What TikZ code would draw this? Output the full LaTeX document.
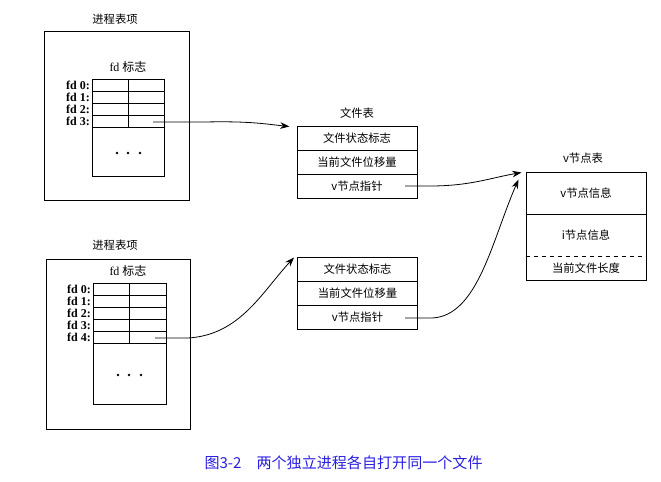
\documentclass[tikz,border=0pt]{standalone}
\usepackage{fontspec}
\setmainfont{Liberation Serif}
\newfontfamily\cjk{Noto Sans CJK SC}
\usetikzlibrary{arrows.meta,calc}
\definecolor{capblue}{RGB}{40,30,225}
\tikzset{
	ftrow/.style={draw,minimum width=90pt,minimum height=18pt,inner sep=0pt,font=\cjk\fontsize{8.5}{9}\selectfont},
	vtxt/.style={inner sep=1pt,font=\cjk\fontsize{8.5}{9}\selectfont},
	ttl/.style={inner sep=1pt,font=\cjk\fontsize{8.5}{9}\selectfont},
	fdlbl/.style={anchor=east,inner sep=0.5pt,font=\bfseries\fontsize{9}{9}\selectfont},
	link/.style={-{Stealth[length=7pt,width=5pt]},line width=0.6pt}
}
\begin{document}
\begin{tikzpicture}[x=0.75pt,y=-0.75pt,line width=0.75pt]
	\useasboundingbox (0,0) rectangle (661,482);

	%process 1
	\node[ttl] (p1title) at (115,19) {进程表项};
	\draw (44,31) rectangle (189,200); %frame
	\node[inner sep=1pt,font=\fontsize{9}{9}\selectfont] (p1fd) at (128,67) {fd {\cjk 标志}};
	\draw (92,79) rectangle (164,176); %fd table
	\foreach \y in {91,103,115,127} \draw (92,\y) -- (164,\y);
	\draw (128,79) -- (128,127);
	\foreach \i/\y in {0/85,1/97,2/109,3/121} \node[fdlbl] (p1fd\i) at (91,\y) {fd \i:};
	\foreach \x in {117,128,140} \fill (\x,153) circle (1.1pt); %dots
	\coordinate (p1ptr) at (153,122);

	%process 2
	\node[ttl] (p2title) at (115,245) {进程表项};
	\draw (46,259) rectangle (190,429); %frame
	\node[inner sep=1pt,font=\fontsize{9}{9}\selectfont] (p2fd) at (128,271) {fd {\cjk 标志}};
	\draw (93,283) rectangle (166,404); %fd table
	\foreach \y in {295,307,319,331,343} \draw (93,\y) -- (166,\y);
	\draw (129,283) -- (129,343);
	\foreach \i/\y in {0/289,1/301,2/313,3/325,4/337} \node[fdlbl] (p2fd\i) at (92,\y) {fd \i:};
	\foreach \x in {118,129,141} \fill (\x,375) circle (1.1pt); %dots
	\coordinate (p2ptr) at (155,338);

	%file tables
	\node[ttl] (ftitle) at (357,113) {文件表};
	\node[ftrow] (fa1) at (357,138) {文件状态标志};
	\node[ftrow] (fa2) at (357,162) {当前文件位移量};
	\node[ftrow] (fa3) at (357,186) {v节点指针};
	\node[ftrow] (fb1) at (357.5,269) {文件状态标志};
	\node[ftrow] (fb2) at (357.5,293) {当前文件位移量};
	\node[ftrow] (fb3) at (357.5,317) {v节点指针};
	\coordinate (faptr) at (405,186);
	\coordinate (fbptr) at (405,318);

	%v-node table
	\node[ttl] (vtitle) at (583,158) {v节点表};
	\node[draw,minimum width=90pt,minimum height=81pt,inner sep=0pt] (vtab) at (586,226) {};
	\draw (vtab.west |- 0,214) -- (vtab.east |- 0,214);
	\draw[dashed] (vtab.west |- 0,256) -- (vtab.east |- 0,256);
	\node[vtxt] (vinfo) at (586,193) {v节点信息};
	\node[vtxt] (iinfo) at (586,235) {i节点信息};
	\node[vtxt] (flen) at (586,268) {当前文件长度};

	%arrows
	\draw[link] (p1ptr) -- (205,122) .. controls (250,121) and (265,124) .. ($(fa1.north west)+(-7,1)$);
	\draw[link] (p2ptr) -- (188,338) .. controls (240,335) and (262,292) .. ($(fb1.north west)+(-3,1)$);
	\draw[link] (faptr) -- (430,186) .. controls (470,186) and (490,178) .. ($(vtab.north west)+(-4,1)$);
	\draw[link] (fbptr) -- (432,318) .. controls (478,316) and (492,240) .. ($(vtab.north west)+(-7,8)$);

	%caption
	\node[anchor=west,inner sep=0pt,text=capblue,font=\cjk\fontsize{11.3}{12}\selectfont] (cap) at (204,463) {图3-2\hspace{1em}两个独立进程各自打开同一个文件};
\end{tikzpicture}
\end{document}
